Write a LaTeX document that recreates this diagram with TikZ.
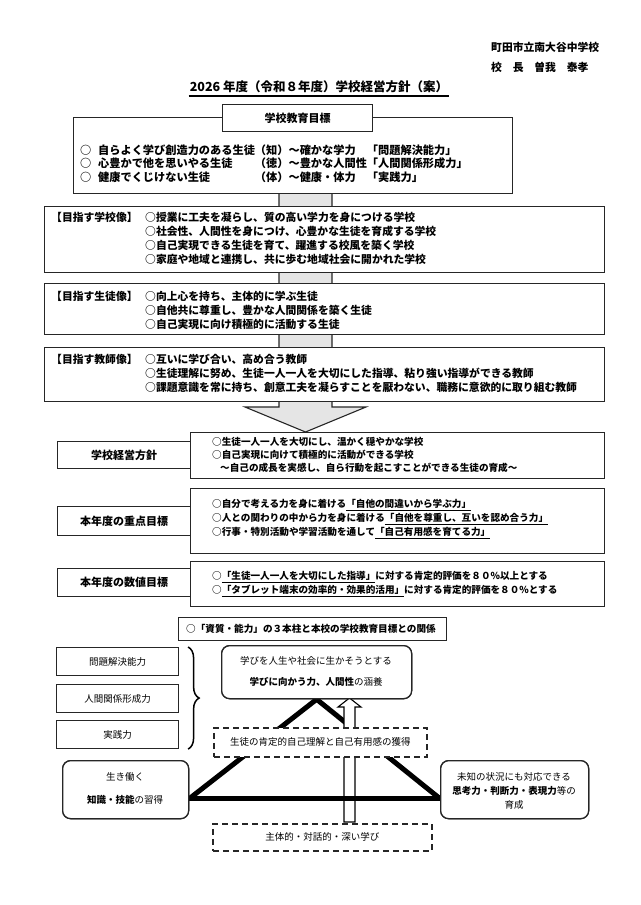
\documentclass[tikz,border=0pt]{standalone}
\usepackage{fontspec}
\setmainfont{Noto Sans CJK JP}
\usetikzlibrary{decorations.pathreplacing,calc}
\begin{document}
\begin{tikzpicture}[x=1pt,y=-1pt,
  bx/.style={draw=black!85,line width=1.1pt,fill=white,inner sep=0pt,anchor=north west},
  rbx/.style={bx,rounded corners=8pt,line width=1.3pt},
  dbx/.style={bx,dash pattern=on 6pt off 4pt,line width=1.5pt},
  hd/.style={anchor=west,inner sep=0pt,font=\fontsize{10.8}{12}\selectfont\bfseries},
  ra/.style={anchor=west,inner sep=0pt,font=\fontsize{11.2}{13}\selectfont\bfseries},
  rb/.style={anchor=west,inner sep=0pt,font=\fontsize{10.8}{12}\selectfont\bfseries},
  rc/.style={anchor=west,inner sep=0pt,font=\fontsize{9.6}{11}\selectfont\bfseries},
  lbl/.style={inner sep=0pt,font=\fontsize{11}{12}\selectfont\bfseries},
  bt/.style={inner sep=0pt,font=\fontsize{9.5}{11}\selectfont},
  tri/.style={line width=5pt,black},
]
\useasboundingbox (0,0) rectangle (640,905);
\fill[white] (0,0) rectangle (640,905);

% big gray arrow behind the boxes
\draw[line width=1.1pt,draw=black!85,fill=black!10]
  (279,190) -- (332,190) -- (332,407) -- (366,407) -- (305.5,432) -- (245,407) -- (279,407) -- cycle;

% header
\node[hd] (school) at (491,47) {町田市立南大谷中学校};
\node[hd] (principal) at (491,67) {校　長　曽我　泰孝};
\node[inner sep=0pt,font=\fontsize{12.5}{14}\selectfont\bfseries] (title) at (319,87) {2026 年度（令和８年度）学校経営方針（案）};
\draw[line width=1.6pt] ($(title.south west)+(-1,3)$) -- ($(title.south east)+(1,3)$);

% school education goals
\node[bx,minimum width=439pt,minimum height=76pt] (g1) at (73,117) {};
\node[bx,minimum width=150pt,minimum height=27pt] (tab) at (222,104) {};
\node[lbl] (tabt) at (tab.center) {学校教育目標};
\node[ra] (g1a) at (80,150) {○\hspace{6.8pt}自らよく学び創造力のある生徒（知）〜確かな学力　「問題解決能力」};
\node[ra] (g1b) at (80,163.5) {○\hspace{6.8pt}心豊かで他を思いやる生徒　　（徳）〜豊かな人間性「人間関係形成力」};
\node[ra] (g1c) at (80,177) {○\hspace{6.8pt}健康でくじけない生徒　　　　（体）〜健康・体力　「実践力」};

% aims: school
\node[bx,minimum width=560pt,minimum height=66pt] (s2) at (44,206) {};
\node[rb] (s2l) at (51,217) {【目指す学校像】};
\node[rb] (s2a) at (145,217) {○授業に工夫を凝らし、質の高い学力を身につける学校};
\node[rb] (s2b) at (145,231) {○社会性、人間性を身につけ、心豊かな生徒を育成する学校};
\node[rb] (s2c) at (145,245) {○自己実現できる生徒を育て、躍進する校風を築く学校};
\node[rb] (s2d) at (145,259) {○家庭や地域と連携し、共に歩む地域社会に開かれた学校};

% aims: students
\node[bx,minimum width=560pt,minimum height=51pt] (s3) at (44,283) {};
\node[rb] (s3l) at (51,296) {【目指す生徒像】};
\node[rb] (s3a) at (145,296) {○向上心を持ち、主体的に学ぶ生徒};
\node[rb] (s3b) at (145,310) {○自他共に尊重し、豊かな人間関係を築く生徒};
\node[rb] (s3c) at (145,324) {○自己実現に向け積極的に活動する生徒};

% aims: teachers
\node[bx,minimum width=560pt,minimum height=54pt] (s4) at (44,347) {};
\node[rb] (s4l) at (51,359) {【目指す教師像】};
\node[rb] (s4a) at (145,359) {○互いに学び合い、高め合う教師};
\node[rb] (s4b) at (145,373) {○生徒理解に努め、生徒一人一人を大切にした指導、粘り強い指導ができる教師};
\node[rb] (s4c) at (145,387) {○課題意識を常に持ち、創意工夫を凝らすことを厭わない、職務に意欲的に取り組む教師};

% school management policy
\node[bx,minimum width=414pt,minimum height=46pt] (p1) at (190,432) {};
\node[bx,minimum width=133pt,minimum height=27pt] (p1l) at (57,441) {};
\node[lbl] (p1lt) at (p1l.center) {学校経営方針};
\node[rc] (p1a) at (212,442) {○生徒一人一人を大切にし、温かく穏やかな学校};
\node[rc] (p1b) at (212,455) {○自己実現に向けて積極的に活動ができる学校};
\node[rc] (p1c) at (220,468) {〜自己の成長を実感し、自ら行動を起こすことができる生徒の育成〜};

% priority goals
\node[bx,minimum width=414pt,minimum height=65pt] (p2) at (190,488) {};
\node[bx,minimum width=133pt,minimum height=29pt] (p2l) at (57,506) {};
\node[lbl] (p2lt) at (p2l.center) {本年度の重点目標};
\node[rc] (p2a) at (212,505) {○自分で考える力を身に着ける\underline{「自他の間違いから学ぶ力」}};
\node[rc] (p2b) at (212,519) {○人との関わりの中から力を身に着ける\underline{「自他を尊重し、互いを認め合う力」}};
\node[rc] (p2c) at (212,533) {○行事・特別活動や学習活動を通して\underline{「自己有用感を育てる力」}};

% numerical goals
\node[bx,minimum width=414pt,minimum height=45pt] (p3) at (190,561) {};
\node[bx,minimum width=133pt,minimum height=28pt] (p3l) at (57,568) {};
\node[lbl] (p3lt) at (p3l.center) {本年度の数値目標};
\node[rc] (p3a) at (212,577) {○\underline{「生徒一人一人を大切にした指導」}に対する肯定的評価を８０\%以上とする};
\node[rc] (p3b) at (212,591) {○\underline{「タブレット端末の効率的・効果的活用」}に対する肯定的評価を８０\%とする};

% relation heading
\node[bx,minimum width=268pt,minimum height=23pt] (rel) at (178,617) {};
\node[rc,anchor=west] (relt) at ($(rel.west)+(8,0)$) {○「資質・能力」の３本柱と本校の学校教育目標との関係};

% bottom diagram: boxes placed first for anchors
\node[rbx,minimum width=190pt,minimum height=53pt] (tk) at (221,645) {};
\node[rbx,minimum width=126pt,minimum height=58pt] (lk) at (62,760) {};
\node[rbx,minimum width=148pt,minimum height=58pt] (rk) at (440,760) {};

% triangle sides
\coordinate (bl) at ($(lk.east)+(0,9)$);
\coordinate (br) at ($(rk.west)+(0,9)$);
\draw[tri] (bl) -- (tk.south);
\draw[tri] (br) -- (tk.south);

% hollow arrow
\draw[line width=1.1pt,fill=white]
  (344,822) -- (344,707) -- (338,707) -- (349.5,698) -- (361,707) -- (355,707) -- (355,822) -- cycle;

% triangle base drawn over the hollow arrow
\draw[tri] (bl) -- (br);

% boxes on top
\node[rbx,minimum width=190pt,minimum height=53pt] (tk2) at (221,645) {};
\node[bt] (tka) at (316,661) {学びを人生や社会に生かそうとする};
\node[bt] (tkb) at (316,682) {\bfseries 学びに向かう力、人間性\mdseries の涵養};

\node[dbx,minimum width=213pt,minimum height=29pt] (d1) at (213,727) {};
\node[bt] (d1t) at (d1.center) {生徒の肯定的自己理解と自己有用感の獲得};

\node[rbx,minimum width=126pt,minimum height=58pt] (lk2) at (62,760) {};
\node[bt] (lka) at (125,777) {生き働く};
\node[bt] (lkb) at (125,800) {\bfseries 知識・技能\mdseries の習得};

\node[rbx,minimum width=148pt,minimum height=58pt] (rk2) at (440,760) {};
\node[bt] (rka) at (514,777) {未知の状況にも対応できる};
\node[bt] (rkb) at (514,791) {\bfseries 思考力・判断力・表現力\mdseries 等の};
\node[bt] (rkc) at (514,805) {育成};

\node[dbx,minimum width=219pt,minimum height=27pt] (d2) at (212,823) {};
\node[bt] (d2t) at (d2.center) {主体的・対話的・深い学び};

% three pillars on the left
\node[bx,minimum width=122pt,minimum height=28pt] (b1) at (56,647) {};
\node[bt] (b1t) at (b1.center) {問題解決能力};
\node[bx,minimum width=122pt,minimum height=28pt] (b2) at (56,684) {};
\node[bt] (b2t) at (b2.center) {人間関係形成力};
\node[bx,minimum width=122pt,minimum height=28pt] (b3) at (56,720) {};
\node[bt] (b3t) at (b3.center) {実践力};
\draw[line width=1.5pt,decorate,decoration={brace,amplitude=11pt}]
  ($(b1.north east)+(9,0)$) -- ($(b3.south east)+(9,0)$);
\end{tikzpicture}
\end{document}
